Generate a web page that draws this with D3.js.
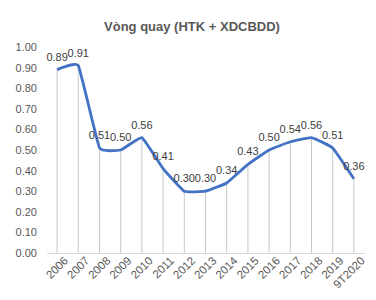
<!DOCTYPE html>
<html>
<head>
<meta charset="utf-8">
<script src="https://cdn.jsdelivr.net/npm/d3@7"></script>
<style>
  body { margin: 0; background: #fff; }
  svg { display: block; font-family: "Liberation Sans", Arial, sans-serif; }
</style>
</head>
<body>
<div id="chart"></div>
<script>
// dữ liệu
const years = ["2006", "2007", "2008", "2009", "2010", "2011", "2012", "2013",
  "2014", "2015", "2016", "2017", "2018", "2019", "9T2020"];
const values = [0.89, 0.91, 0.51, 0.50, 0.56, 0.41, 0.30, 0.30,
  0.34, 0.43, 0.50, 0.54, 0.56, 0.51, 0.36];
const yTicks = [0, 0.1, 0.2, 0.3, 0.4, 0.5, 0.6, 0.7, 0.8, 0.9, 1.0];

const width = 376, height = 300;
const svg = d3.select("#chart").append("svg")
  .attr("width", width)
  .attr("height", height);

svg.append("rect").attr("width", width).attr("height", height).attr("fill", "#fff");

const x = d3.scaleBand().domain(years).range([46.5, 364.5]);
const y = d3.scaleLinear().domain([0, 1]).range([253, 47]);
const cx = d => x(d) + x.bandwidth() / 2;

// tiêu đề
svg.append("text")
  .attr("x", 192).attr("y", 31)
  .attr("text-anchor", "middle")
  .attr("font-size", 13).attr("font-weight", "bold")
  .attr("fill", "#595959")
  .text("Vòng quay (HTK + XDCBDD)");

// trục y (chỉ nhãn)
const yAxis = svg.append("g")
  .attr("transform", "translate(37,0)")
  .call(d3.axisLeft(y).tickValues(yTicks).tickFormat(d3.format(".2f")).tickSize(0).tickPadding(0));
yAxis.select(".domain").remove();
yAxis.selectAll("text").attr("font-size", 11).attr("fill", "#595959").attr("font-family", null);

// đường thả xuống
svg.append("g").selectAll("line")
  .data(values)
  .join("line")
  .attr("x1", (d, i) => cx(years[i])).attr("x2", (d, i) => cx(years[i]))
  .attr("y1", d => y(d)).attr("y2", y(0))
  .attr("stroke", "#c8c8c8").attr("stroke-width", 1);

// trục x
const xAxis = svg.append("g")
  .attr("transform", `translate(0,${y(0)})`)
  .call(d3.axisBottom(x).tickSize(0).tickPadding(5));
xAxis.select(".domain").attr("stroke", "#d9d9d9");
xAxis.selectAll("text")
  .attr("font-size", 11.5).attr("fill", "#595959").attr("font-family", null)
  .attr("text-anchor", "end")
  .attr("dx", "0.2em").attr("dy", "0.8em")
  .attr("transform", "rotate(-45)");

// đường cong
const line = d3.line()
  .x((d, i) => cx(years[i]))
  .y(d => y(d))
  .curve(d3.curveCardinal.tension(0.7));
svg.append("path")
  .datum(values)
  .attr("d", line)
  .attr("fill", "none")
  .attr("stroke", "#4472c4")
  .attr("stroke-width", 2.8)
  .attr("stroke-linejoin", "round");

// nhãn dữ liệu
svg.append("g").selectAll("text")
  .data(values)
  .join("text")
  .attr("x", (d, i) => cx(years[i]))
  .attr("y", d => y(d) - 9)
  .attr("text-anchor", "middle")
  .attr("font-size", 11).attr("fill", "#404040")
  .text(d => d3.format(".2f")(d));
</script>
</body>
</html>
